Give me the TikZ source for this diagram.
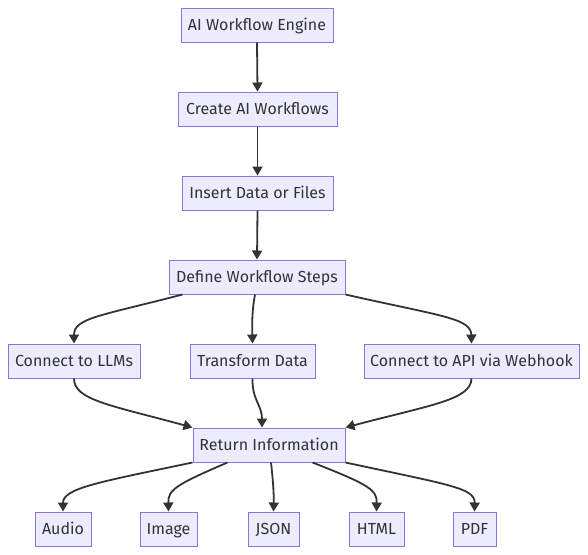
\documentclass[tikz,border=0pt]{standalone}
\usepackage{fontspec}
\setmainfont{Fira Sans}
\usetikzlibrary{arrows.meta,calc}
\definecolor{boxfill}{HTML}{ECECFF}
\definecolor{boxline}{HTML}{9370DB}
\definecolor{ink}{HTML}{333333}
\begin{document}
\begin{tikzpicture}[x=1pt,y=-1pt,
  box/.style={draw=boxline,fill=boxfill,line width=1pt,minimum height=34pt,inner xsep=0pt,inner ysep=0pt,text height=11pt,text depth=1pt,text=ink,font=\fontsize{16}{19}\selectfont},
  conn/.style={draw=ink,line width=1.8pt,-{Triangle[length=9pt,width=10pt]}}]
\useasboundingbox (0,0) rectangle (588,554);
\node[box,minimum width=152pt] (eng) at (257,25) {AI Workflow Engine};
\node[box,minimum width=159pt] (cre) at (257.5,109) {Create AI Workflows};
\node[box,minimum width=151pt] (ins) at (257.5,193) {Insert Data or Files};
\node[box,minimum width=176pt] (def) at (257,277) {Define Workflow Steps};
\node[box,minimum width=132pt] (llm) at (74,361) {Connect to LLMs};
\node[box,minimum width=125pt] (tra) at (252.5,361) {Transform Data};
\node[box,minimum width=215pt] (api) at (471.5,361) {Connect to API via Webhook};
\node[box,minimum width=152pt] (ret) at (269,445) {Return Information};
\node[box,minimum width=56pt] (aud) at (63,529) {Audio};
\node[box,minimum width=57pt] (img) at (168.5,529) {Image};
\node[box,minimum width=51pt] (jsn) at (273.5,529) {JSON};
\node[box,minimum width=55pt] (htm) at (376.5,529) {HTML};
\node[box,minimum width=43pt] (pdf) at (474.5,529) {PDF};
\draw[conn] (eng.south) -- (cre.north);
\draw[conn] (cre.south) -- (ins.north);
\draw[conn] (ins.south) -- (def.north);
\draw[conn] ($(def.south west)+(14,0)$) .. controls (100,316) and (74,318) .. (llm.north);
\draw[conn] ($(def.south)+(-2,0)$) .. controls (252,310) and (252,325) .. (tra.north);
\draw[conn] ($(def.south east)+(0,0)$) .. controls (440,316) and (471,318) .. (api.north);
\draw[conn] (llm.south) .. controls (74,400) and (110,405) .. ($(ret.north west)+(0,0)$);
\draw[conn] (tra.south) .. controls (252,400) and (262,405) .. ($(ret.north)+(-7,0)$);
\draw[conn] (api.south) .. controls (471,400) and (430,405) .. ($(ret.north east)+(0,0)$);
\draw[conn] ($(ret.south west)+(0,0)$) .. controls (100,482) and (63,488) .. (aud.north);
\draw[conn] ($(ret.south west)+(35,0)$) .. controls (175,485) and (168,490) .. (img.north);
\draw[conn] ($(ret.south)+(2,0)$) .. controls (273,480) and (274,495) .. (jsn.north);
\draw[conn] ($(ret.south east)+(-33,0)$) .. controls (370,485) and (377,490) .. (htm.north);
\draw[conn] ($(ret.south east)+(0,0)$) .. controls (450,485) and (475,488) .. (pdf.north);
\end{tikzpicture}
\end{document}
